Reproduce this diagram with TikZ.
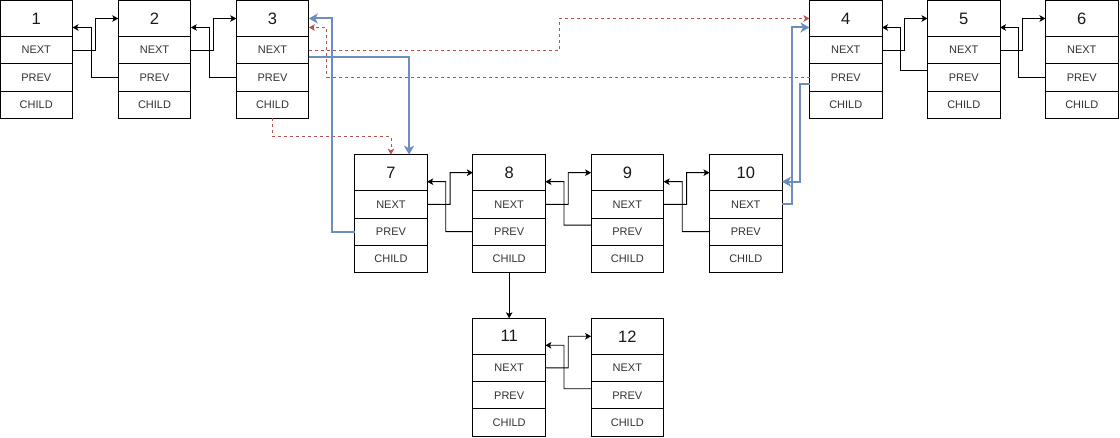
\documentclass[tikz,border=0pt]{standalone}
\usepackage{fontspec}
\setmainfont{Liberation Sans}
\usetikzlibrary{calc,arrows.meta}
\definecolor{bluel}{HTML}{6C8EBF}
\definecolor{redl}{HTML}{B85450}
\tikzset{
  hdr/.style={draw=black, line width=0.9pt, minimum width=72.5pt, minimum height=36pt,
    inner sep=0pt, outer sep=0pt, font=\fontsize{16.5}{18}\selectfont, text=black!90},
  cellbox/.style={draw=black, line width=0.9pt, minimum width=72.5pt, minimum height=27.3pt,
    inner sep=0pt, outer sep=0pt, font=\fontsize{11}{12}\selectfont, text=black!80},
  blk/.style={draw=black, line width=0.9pt, -{Stealth[length=6pt,width=6.5pt,inset=1.5pt]}},
  bl/.style={draw=bluel, line width=2pt, -{Stealth[length=9pt,width=10pt,inset=2.5pt]}},
  rd/.style={draw=redl, line width=0.9pt, dash pattern=on 3pt off 3pt,
    -{Stealth[length=6pt,width=6.5pt,inset=1.5pt,sep=0pt]}},
}
\newcommand\llbox[4]{%
  \node[hdr, anchor=north west] (#1) at (#2,#3) {#4};
  \node[cellbox, anchor=north] (#1n) at (#1.south) {NEXT};
  \node[cellbox, anchor=north] (#1p) at (#1n.south) {PREV};
  \node[cellbox, anchor=north] (#1c) at (#1p.south) {CHILD};
}
% #1 from box, #2 to box, #3 vertical offset of the prev exit
\newcommand\lllink[3]{%
  \draw[blk] (#1n.east) -| ($(#1.east)!0.5!(#2.west)$) -- (#2.west);
  \draw[blk] ($(#2p.west)+(0,#3)$) -| ($(#1.east)!0.5!(#2.west)+(-4.3,9)$) -- ($(#1.east)+(0,9)$);
}
\begin{document}
\begin{tikzpicture}[x=1pt,y=-1pt]
\useasboundingbox (0,0) rectangle (1120,438);
\fill[white] (0,0) rectangle (1120,438);
% row 1
\llbox{b1}{0}{0.5}{1}
\llbox{b2}{118.3}{0.5}{2}
\llbox{b3}{236.3}{0.5}{3}
\llbox{b4}{809.5}{0.5}{4}
\llbox{b5}{927.5}{0.5}{5}
\llbox{b6}{1045.5}{0.5}{6}
% row 2
\llbox{b7}{354.7}{154.7}{7}
\llbox{b8}{472.9}{154.7}{8}
\llbox{b9}{591.1}{154.7}{9}
\llbox{b10}{709.5}{154.7}{10}
% row 3
\llbox{b11}{472.9}{318.3}{11}
\llbox{b12}{591.1}{318.3}{12}
% black links
\lllink{b1}{b2}{0}
\lllink{b2}{b3}{0}
\lllink{b4}{b5}{-6.5}
\lllink{b5}{b6}{0}
\lllink{b7}{b8}{0}
\lllink{b8}{b9}{-6.5}
\lllink{b9}{b10}{0}
\lllink{b11}{b12}{-6.5}
\draw[blk] (b8c.south) -- (b11.north);
% red dashed links
\draw[rd] (b3n.east) -| ($(b4.west)+(-250,0)$) -- (b4.west);
\draw[rd] (b4p.west) -| ($(b3.east)+(18,9)$) -- ($(b3.east)+(0,9)$);
\draw[rd] (b3c.south) |- ($(b3c.south)!0.5!(b7.north)$) -| (b7.north);
% blue links
\draw[bl] ($(b3n.east)+(0,7)$) -| ($(b7.north west)!0.75!(b7.north east)$);
\draw[bl] (b7p.west) -| ($(b3.east)+(23,0)$) -- (b3.east);
\draw[bl] (b10n.east) -| ($(b4.west)+(-18,9)$) -- ($(b4.west)+(0,9)$);
\draw[bl] ($(b4p.west)+(0,7)$) -| ($(b10.east)+(18,9)$) -- ($(b10.east)+(0,9)$);
\end{tikzpicture}
\end{document}
